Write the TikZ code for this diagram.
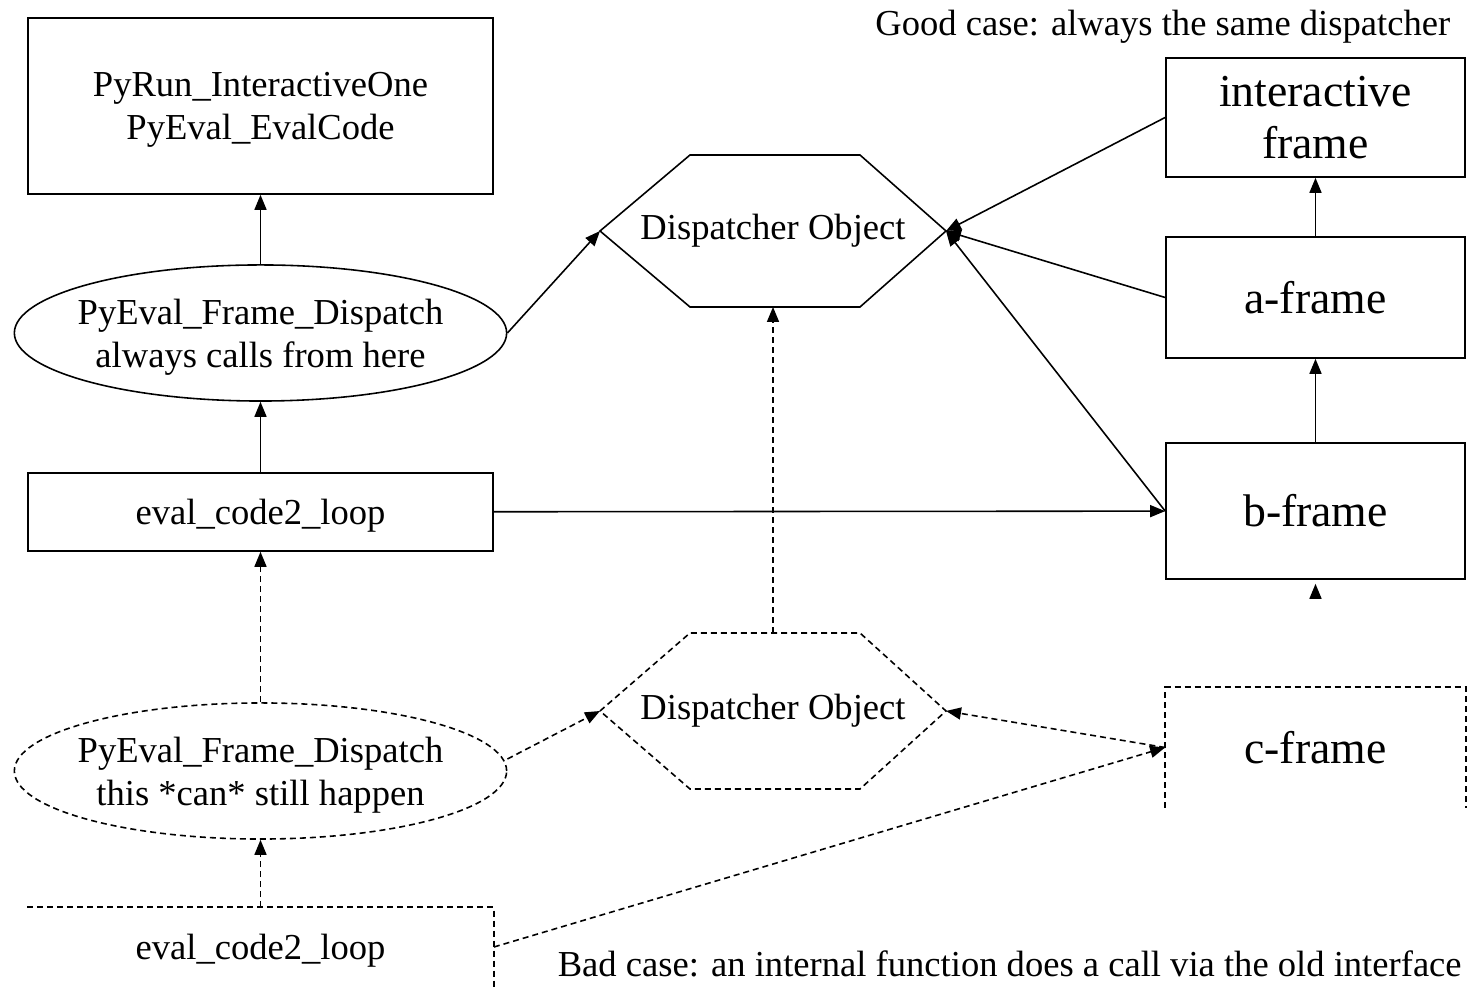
\documentclass[tikz,border=0pt]{standalone}
\usepackage{fontspec}
\setmainfont{Liberation Serif}
\usetikzlibrary{arrows.meta,shapes.geometric}
\newcommand{\smallfnt}{\fontsize{10.4}{12.2}\selectfont}
\newcommand{\bigfnt}{\fontsize{13}{15}\selectfont}
\tikzset{
  cbox/.style={draw, minimum width=4.65cm, inner sep=0pt, text depth=0pt, align=center, font=\smallfnt},
  frm/.style={minimum width=2.99cm, inner sep=0pt, align=center, font=\bigfnt},
  oval/.style={minimum width=4.92cm, minimum height=1.36cm, inner sep=0pt, text depth=0pt, align=center, font=\smallfnt},
  txt/.style={inner sep=0pt, font=\smallfnt},
  arr/.style={-{Triangle[length=0.15cm,width=0.12cm]}},
  dsh/.style={dash pattern=on 0.06cm off 0.04cm}
}

\begin{document}
\begin{tikzpicture}[x=0.01cm,y=-0.01cm,line width=0.45pt]
  \useasboundingbox (0,0) rectangle (1469,989);
  \node[cbox, minimum height=1.76cm] (run) at (260.5,106) {PyRun\_InteractiveOne\\PyEval\_EvalCode};
  \node[oval] (disp) at (260.5,333) {PyEval\_Frame\_Dispatch\\always calls from here};
  \draw (disp) ellipse [x radius=2.46cm, y radius=0.68cm];
  \node[cbox, minimum height=0.78cm] (loop) at (260.5,512) {eval\_code2\_loop};
  \node[oval] (dispb) at (260.5,771) {PyEval\_Frame\_Dispatch\\this *can* still happen};
  \draw[dsh] (dispb) ellipse [x radius=2.46cm, y radius=0.68cm];
  \node[cbox, draw=none, minimum height=0.78cm] (loopb) at (260.5,947) {eval\_code2\_loop};
  \draw[dsh] (loopb.north west) -- (loopb.north east) -- (loopb.south east);

  \node[txt] (obj) at (773,231) {Dispatcher Object};
  \draw (600,231) coordinate (objw) -- (690,155) -- (860,155) -- (946,231) coordinate (obje) -- (860,307) -- (690,307) -- cycle;
  \coordinate (objs) at (773,307);
  \node[txt] (objb) at (773,711) {Dispatcher Object};
  \draw[dsh] (600,711) coordinate (objbw) -- (690,633) -- (860,633) -- (946,711) coordinate (objbe) -- (860,789) -- (690,789) -- cycle;
  \coordinate (objbn) at (773,633);

  \node[frm, draw, minimum height=1.19cm] (inter) at (1315.5,117.5) {interactive\\frame};
  \node[frm, draw, minimum height=1.21cm] (aframe) at (1315.5,297.5) {a-frame};
  \node[frm, draw, minimum height=1.36cm] (bframe) at (1315.5,511) {b-frame};
  \node[frm, minimum height=1.19cm] (cframe) at (1315.5,747.5) {c-frame};
  \draw[dsh] (cframe.south west) -- (cframe.north west) -- (cframe.north east) -- (cframe.south east);
  \coordinate (stub) at (1315.5,598);

  \node[txt, anchor=east] (good) at (1451,27) {Good case: always the same dispatcher};
  \node[txt, anchor=west] (bad) at (557,964) {Bad case: an internal function does a call via the old interface};

  \draw[arr] (loop) -- (disp);
  \draw[arr] (disp) -- (run);
  \draw[arr] (disp.east) -- (objw);
  \draw[arr] (loop) -- (bframe);
  \draw[arr] (inter.west) -- (obje);
  \draw[arr] (aframe.west) -- (obje);
  \draw[arr] (bframe.west) -- (obje);
  \draw[arr] (bframe) -- (aframe);
  \draw[arr] (aframe) -- (inter);
  \draw[arr, shorten >=0.04cm] (stub) -- (bframe.south);
  \draw[arr, dsh] (objbn) -- (objs);
  \draw[arr, dsh] (dispb) -- (loop);
  \draw[arr, dsh] (loopb) -- (dispb);
  \draw[arr, dsh] ([yshift=0.12cm]dispb.east) -- (objbw);
  \draw[arr, dsh] (cframe.west) -- (objbe);
  \draw[arr, dsh] (loopb.east) -- (cframe.west);
\end{tikzpicture}
\end{document}
